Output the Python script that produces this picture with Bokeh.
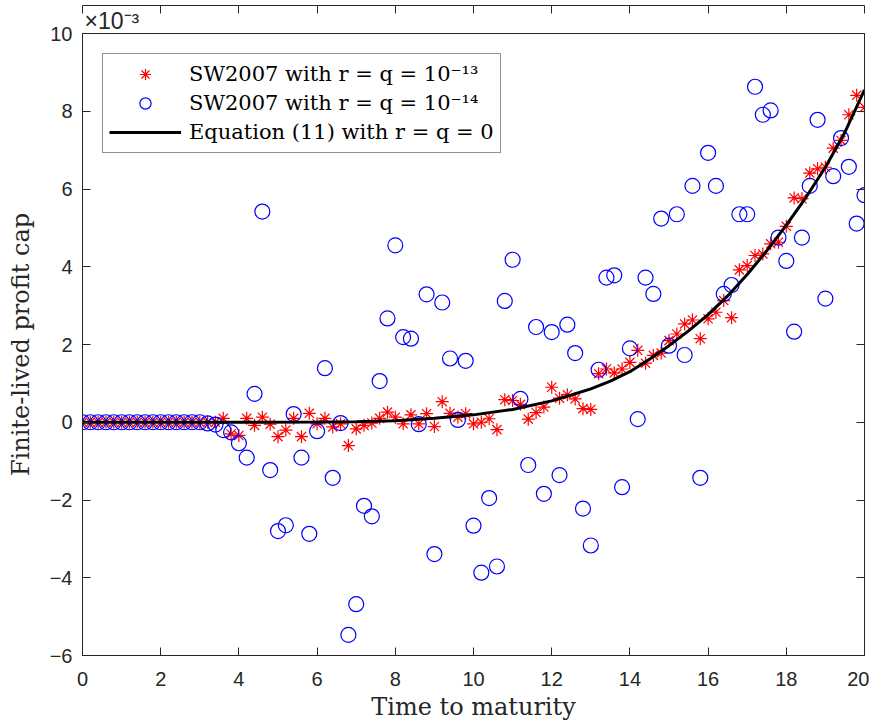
from bokeh.plotting import figure
from bokeh.models import (ColumnDataSource, Range1d, LinearAxis, FixedTicker,
                          Legend, LegendItem, Title)
from bokeh.embed import file_html
from bokeh.resources import INLINE

# ---------------- data (values in units of 1e-3) ----------------
t = [0.0, 0.2, 0.4, 0.6, 0.8, 1.0, 1.2, 1.4, 1.6, 1.8,
     2.0, 2.2, 2.4, 2.6, 2.8, 3.0, 3.2, 3.4, 3.6, 3.8,
     4.0, 4.2, 4.4, 4.6, 4.8, 5.0, 5.2, 5.4, 5.6, 5.8,
     6.0, 6.2, 6.4, 6.6, 6.8, 7.0, 7.2, 7.4, 7.6, 7.8,
     8.0, 8.2, 8.4, 8.6, 8.8, 9.0, 9.2, 9.4, 9.6, 9.8,
     10.0, 10.2, 10.4, 10.6, 10.8, 11.0, 11.2, 11.4, 11.6, 11.8,
     12.0, 12.2, 12.4, 12.6, 12.8, 13.0, 13.2, 13.4, 13.6, 13.8,
     14.0, 14.2, 14.4, 14.6, 14.8, 15.0, 15.2, 15.4, 15.6, 15.8,
     16.0, 16.2, 16.4, 16.6, 16.8, 17.0, 17.2, 17.4, 17.6, 17.8,
     18.0, 18.2, 18.4, 18.6, 18.8, 19.0, 19.2, 19.4, 19.6, 19.8,
     20.0]

sw_13 = [0, 0, 0, 0, 0, 0, 0, 0, 0, 0,
         0, 0, 0, 0, 0, 0, 0, 0, 0.10, -0.30,
         -0.34, 0.10, -0.08, 0.13, -0.05, -0.37, -0.20, 0.10, -0.37, 0.23,
         -0.04, 0.10, -0.12, -0.04, -0.60, -0.17, -0.08, -0.02, 0.10, 0.26,
         0.13, -0.04, 0.19, -0.04, 0.22, -0.11, 0.53, 0.23, 0.13, 0.22,
         -0.04, 0.00, 0.09, -0.19, 0.58, 0.56, 0.46, 0.08, 0.25, 0.39,
         0.90, 0.62, 0.71, 0.60, 0.35, 0.33, 1.25, 1.37, 1.27, 1.37,
         1.54, 1.85, 1.52, 1.72, 1.78, 2.10, 2.27, 2.53, 2.63, 2.15,
         2.66, 2.83, 3.13, 2.69, 3.92, 4.03, 4.29, 4.33, 4.59, 4.63,
         5.04, 5.77, 5.75, 6.41, 6.52, 6.56, 7.05, 7.25, 7.91, 8.41,
         8.10]

sw_14 = [0, 0, 0, 0, 0, 0, 0, 0, 0, 0,
         0, 0, 0, 0, 0, 0, -0.03, -0.06, -0.20, -0.26,
         -0.54, -0.91, 0.73, 5.42, -1.23, -2.80, -2.65, 0.21, -0.91, -2.87,
         -0.23, 1.39, -1.43, -0.02, -5.47, -4.68, -2.15, -2.42, 1.06, 2.67,
         4.55, 2.19, 2.15, -0.05, 3.29, -3.39, 3.08, 1.64, 0.06, 1.58,
         -2.66, -3.87, -1.95, -3.71, 3.12, 4.18, 0.60, -1.10, 2.45, -1.84,
         2.32, -1.36, 2.51, 1.78, -2.22, -3.17, 1.35, 3.72, 3.78, -1.67,
         1.90, 0.08, 3.72, 3.30, 5.24, 1.97, 5.35, 1.73, 6.08, -1.43,
         6.93, 6.08, 3.30, 3.53, 5.35, 5.35, 8.63, 7.91, 8.02, 4.75,
         4.15, 2.33, 4.75, 6.08, 7.78, 3.18, 6.33, 7.31, 6.57, 5.11,
         5.84]

eq_t = [0, 2, 4, 6, 7, 8, 9, 10, 11, 12, 12.5, 13, 13.5, 14, 14.5,
        15, 15.5, 16, 16.5, 17, 17.5, 18, 18.5, 19, 19.5, 20]
eq_v = [0, 0, 0, 0.005, 0.015, 0.04, 0.10, 0.19, 0.33, 0.55, 0.70, 0.86,
        1.06, 1.30, 1.62, 1.97, 2.35, 2.77, 3.25, 3.80, 4.41, 5.07, 5.78,
        6.56, 7.46, 8.55]

x_ticks = [0, 2, 4, 6, 8, 10, 12, 14, 16, 18, 20]
y_ticks = [-6, -4, -2, 0, 2, 4, 6, 8, 10]

labels = ["SW2007 with r = q = 10\u207b\u00b9\u00b3",
          "SW2007 with r = q = 10\u207b\u00b9\u2074",
          "Equation (11) with r = q = 0"]
exponent_text = "\u00d710\u207b\u00b3"

assert len(t) == len(sw_13) == len(sw_14)

# ---------------- figure ----------------
AX = "#262626"
SANS = "Liberation Sans"
SERIF = "DejaVu Serif"

p = figure(frame_width=782, frame_height=622,
           x_range=Range1d(0, 20), y_range=Range1d(-6, 10),
           output_backend="svg", toolbar_location=None,
           min_border_left=82, min_border_right=5,
           min_border_top=33, min_border_bottom=55,
           background_fill_color="white", border_fill_color="white",
           title=None)
p.grid.visible = False
p.outline_line_color = AX

exp_title = Title(text=exponent_text, align="left", offset=2, standoff=0,
                  text_font=SANS, text_font_size="23px",
                  text_font_style="normal", text_color=AX)
p.add_layout(exp_title, "above")

src1 = ColumnDataSource(dict(x=t, y=sw_13))
src2 = ColumnDataSource(dict(x=t, y=sw_14))
src3 = ColumnDataSource(dict(x=eq_t, y=eq_v))

r1 = p.scatter("x", "y", source=src1, marker="asterisk", size=13,
               line_color="red", line_width=1.2)
r2 = p.scatter("x", "y", source=src2, marker="circle", size=15,
               line_color="blue", fill_color=None, line_width=1.2)
r3 = p.line("x", "y", source=src3, line_color="black", line_width=3)

xb = p.xaxis[0]
yl = p.yaxis[0]
xb.ticker = FixedTicker(ticks=x_ticks)
yl.ticker = FixedTicker(ticks=y_ticks)
for ax in (xb, yl):
    ax.axis_line_color = AX
    ax.major_tick_line_color = AX
    ax.major_tick_in = 8
    ax.major_tick_out = 0
    ax.minor_tick_line_color = None
    ax.major_label_text_color = AX
    ax.major_label_text_font = SANS
    ax.major_label_text_font_size = "20px"
    ax.axis_label_text_font = SERIF
    ax.axis_label_text_font_size = "24px"
    ax.axis_label_text_font_style = "normal"
    ax.axis_label_text_color = AX
xb.major_label_standoff = 16
yl.major_label_standoff = 10
xb.axis_label = "Time to maturity"
yl.axis_label = "Finite-lived profit cap"
xb.axis_label_standoff = 4
yl.axis_label_standoff = 12

for loc, ticks in (("above", x_ticks), ("right", y_ticks)):
    ax = LinearAxis(ticker=FixedTicker(ticks=ticks))
    ax.axis_line_color = AX
    ax.major_tick_line_color = AX
    ax.major_tick_in = 8
    ax.major_tick_out = 0
    ax.minor_tick_line_color = None
    ax.major_label_text_font_size = "0px"
    ax.major_label_text_alpha = 0
    ax.major_label_standoff = 0
    p.add_layout(ax, loc)

legend = Legend(items=[LegendItem(label=labels[0], renderers=[r1]),
                       LegendItem(label=labels[1], renderers=[r2]),
                       LegendItem(label=labels[2], renderers=[r3])],
                location="top_left", margin=20,
                border_line_color=AX, border_line_width=1,
                background_fill_color="white", background_fill_alpha=1.0,
                label_text_font=SERIF, label_text_font_size="21px",
                label_text_color="black",
                glyph_width=72, glyph_height=28, label_height=28,
                spacing=1, padding=6, label_standoff=8)
p.add_layout(legend, "center")

open("out.html", "w").write(file_html(p, INLINE))
